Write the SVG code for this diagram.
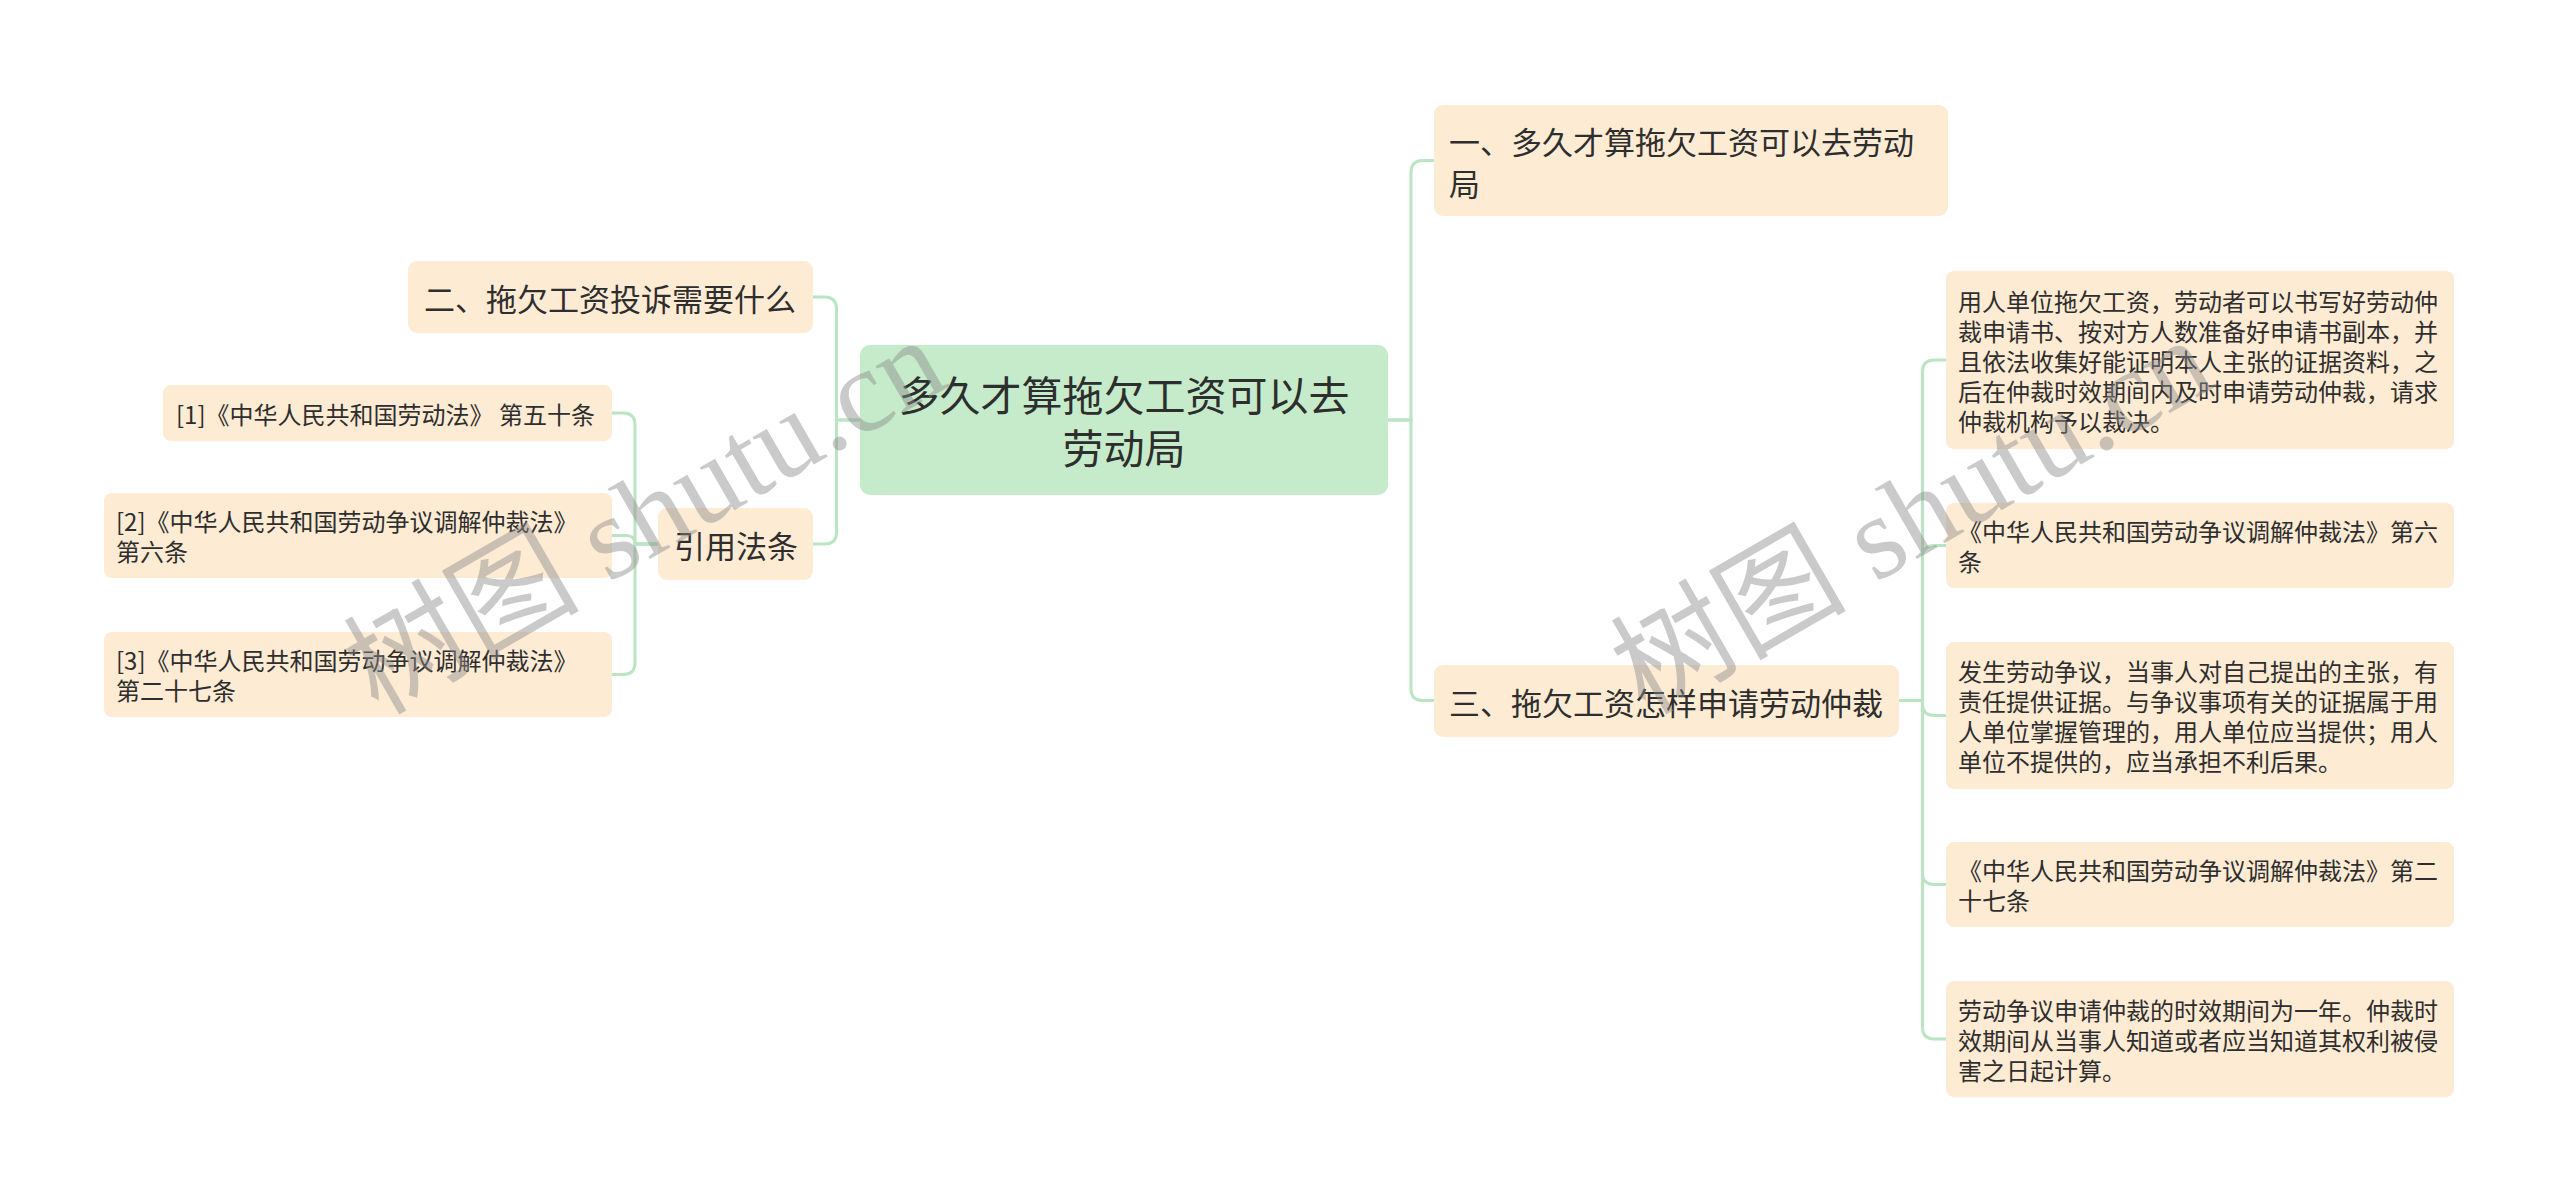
<svg xmlns="http://www.w3.org/2000/svg" width="2560" height="1204" viewBox="0 0 2560 1204">
<style>
text{font-family:"Noto Sans CJK SC","Noto Sans",sans-serif;fill:#2e2e2e;dominant-baseline:central}
.box{fill:#feebd4}
.root{fill:#c5ebca}
.t0{font-size:41px;text-anchor:middle}
.t1{font-size:31px}
.t2{font-size:24px}
.conn path{fill:none;stroke:#b9e5c2;stroke-width:3}
.wm{font-family:"Liberation Serif","Noto Sans CJK SC",serif;font-size:118px;fill:#8c8c8c;opacity:0.45;dominant-baseline:alphabetic}
</style>
<rect width="2560" height="1204" fill="#ffffff"/>
<g class="conn" id="connectors">
<path d="M1388,420 H1411 V172.5 Q1411,160.5 1423,160.5 H1434"/>
<path d="M1388,420 H1411 V688.5 Q1411,700.5 1423,700.5 H1434"/>
<path d="M860,420 H836.5 V309 Q836.5,297 824.5,297 H813"/>
<path d="M860,420 H836.5 V532 Q836.5,544 824.5,544 H813"/>
<path d="M658,544 H635 V425 Q635,413 623,413 H612"/>
<path d="M658,544 H635 Q635,535.5 626.5,535.5 H612"/>
<path d="M658,544 H635 V662.5 Q635,674.5 623,674.5 H612"/>
<path d="M1899,700.5 H1922.5 V372 Q1922.5,360 1934.5,360 H1946"/>
<path d="M1899,700.5 H1922.5 V557.5 Q1922.5,545.5 1934.5,545.5 H1946"/>
<path d="M1899,700.5 H1922.5 V703.5 Q1922.5,715.5 1934.5,715.5 H1946"/>
<path d="M1899,700.5 H1922.5 V872.5 Q1922.5,884.5 1934.5,884.5 H1946"/>
<path d="M1899,700.5 H1922.5 V1027 Q1922.5,1039 1934.5,1039 H1946"/>
</g>
<g id="root">
<rect class="root" x="860" y="345" width="528" height="150" rx="10"/>
<text class="t0" x="1124" y="393">多久才算拖欠工资可以去</text>
<text class="t0" x="1124" y="446">劳动局</text>
</g>
<g id="n1">
<rect class="box" x="1434" y="105" width="514" height="111" rx="9"/>
<text class="t1" x="1449" y="140">一、多久才算拖欠工资可以去劳动</text>
<text class="t1" x="1449" y="182">局</text>
</g>
<g id="n3">
<rect class="box" x="1434" y="665" width="465" height="72" rx="9"/>
<text class="t1" x="1449" y="701">三、拖欠工资怎样申请劳动仲裁</text>
</g>
<g id="n2">
<rect class="box" x="408" y="261" width="405" height="72" rx="9"/>
<text class="t1" x="424" y="297">二、拖欠工资投诉需要什么</text>
</g>
<g id="n4">
<rect class="box" x="658" y="508" width="155" height="72" rx="9"/>
<text class="t1" x="674" y="544">引用法条</text>
</g>
<g id="l1">
<rect class="box" x="163" y="385" width="449" height="56" rx="8"/>
<text class="t2" x="176" y="413">[1]《中华人民共和国劳动法》 第五十条</text>
</g>
<g id="l2">
<rect class="box" x="104" y="493" width="508" height="85" rx="8"/>
<text class="t2" x="116" y="520.5">[2]《中华人民共和国劳动争议调解仲裁法》</text>
<text class="t2" x="116" y="550.5">第六条</text>
</g>
<g id="l3">
<rect class="box" x="104" y="632" width="508" height="85" rx="8"/>
<text class="t2" x="116" y="659.5">[3]《中华人民共和国劳动争议调解仲裁法》</text>
<text class="t2" x="116" y="689.5">第二十七条</text>
</g>
<g id="d1">
<rect class="box" x="1946" y="271" width="508" height="178" rx="8"/>
<text class="t2" x="1958" y="300">用人单位拖欠工资，劳动者可以书写好劳动仲</text>
<text class="t2" x="1958" y="330">裁申请书、按对方人数准备好申请书副本，并</text>
<text class="t2" x="1958" y="360">且依法收集好能证明本人主张的证据资料，之</text>
<text class="t2" x="1958" y="390">后在仲裁时效期间内及时申请劳动仲裁，请求</text>
<text class="t2" x="1958" y="420">仲裁机构予以裁决。</text>
</g>
<g id="d2">
<rect class="box" x="1946" y="503" width="508" height="85" rx="8"/>
<text class="t2" x="1958" y="530.5">《中华人民共和国劳动争议调解仲裁法》第六</text>
<text class="t2" x="1958" y="560.5">条</text>
</g>
<g id="d3">
<rect class="box" x="1946" y="642" width="508" height="147" rx="8"/>
<text class="t2" x="1958" y="670.5">发生劳动争议，当事人对自己提出的主张，有</text>
<text class="t2" x="1958" y="700.5">责任提供证据。与争议事项有关的证据属于用</text>
<text class="t2" x="1958" y="730.5">人单位掌握管理的，用人单位应当提供；用人</text>
<text class="t2" x="1958" y="760.5">单位不提供的，应当承担不利后果。</text>
</g>
<g id="d4">
<rect class="box" x="1946" y="842" width="508" height="85" rx="8"/>
<text class="t2" x="1958" y="869.5">《中华人民共和国劳动争议调解仲裁法》第二</text>
<text class="t2" x="1958" y="899.5">十七条</text>
</g>
<g id="d5">
<rect class="box" x="1946" y="981" width="508" height="116" rx="8"/>
<text class="t2" x="1958" y="1009">劳动争议申请仲裁的时效期间为一年。仲裁时</text>
<text class="t2" x="1958" y="1039">效期间从当事人知道或者应当知道其权利被侵</text>
<text class="t2" x="1958" y="1069">害之日起计算。</text>
</g>
<g id="watermark">
<text class="wm" transform="translate(378,716) rotate(-30)">树图 shutu.cn</text>
<text class="wm" transform="translate(1645,716) rotate(-30)">树图 shutu.cn</text>
</g>
</svg>
